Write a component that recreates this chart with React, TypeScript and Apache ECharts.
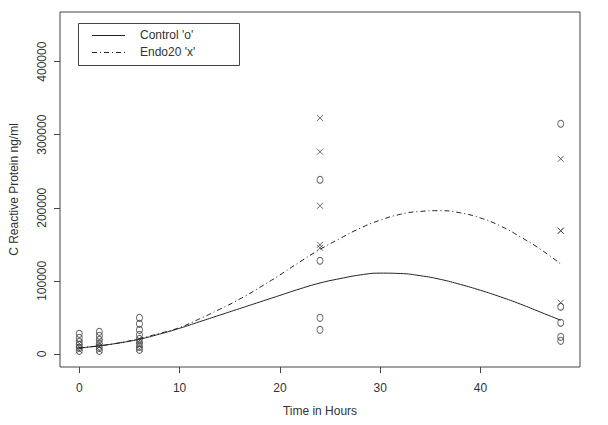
import React, { useEffect, useRef } from "react";
import * as echarts from "echarts";

const xTicks = [0, 10, 20, 30, 40];
const yTicks = [0, 100000, 200000, 300000, 400000];

// Control observations ('o')
const controlHours = [
  0, 0, 0, 0, 0, 0,
  2, 2, 2, 2, 2, 2,
  6, 6, 6, 6, 6, 6, 6, 6,
  24, 24, 24, 24,
  48, 48, 48, 48, 48,
];
const controlValues = [
  27400, 21900, 16400, 12300, 8200, 4100,
  30100, 24700, 19200, 13700, 8200, 4100,
  49300, 41100, 32900, 26000, 20500, 15100, 9600, 5500,
  238400, 127400, 49300, 32900,
  315000, 64400, 42500, 23300, 17800,
];

// Endo20 observations ('x')
const endoHours = [
  0, 0, 0,
  2, 2, 2,
  6, 6, 6,
  24, 24, 24, 24, 24,
  48, 48, 48, 48,
];
const endoValues = [
  14000, 9000, 5000,
  16000, 10000, 5000,
  18000, 12000, 7000,
  323000, 276700, 202700, 149300, 145200,
  267000, 168500, 168500, 70000,
];

// Fitted curves
const curveHours = [0, 2, 4, 6, 8, 10, 12, 14, 16, 18, 20, 22, 24, 26, 28, 30, 32, 34, 36, 38, 40, 42, 44, 46, 48];
const controlCurve = [
  8000, 11000, 15000, 20000, 27000, 35000, 44000, 53000, 62000, 71000, 80000, 89000, 97000,
  103000, 108000, 110500, 110000, 107000, 102000, 95000, 87000, 78000, 68000, 57000, 46000,
];
const endoCurve = [
  8000, 11000, 15000, 21000, 28000, 36000, 48000, 61000, 75000, 91000, 108000, 126000, 143000,
  158000, 172000, 183000, 191000, 195000, 196000, 193000, 186000, 175000, 160000, 143000, 123000,
];

const ink = "#333";
const font = "Liberation Sans, Arial, sans-serif";

export default function App() {
  const ref = useRef<HTMLDivElement>(null);
  useEffect(() => {
    if (!ref.current) return;
    const chart = echarts.init(ref.current, undefined, { renderer: "svg" });
    const pair = (xs: number[], ys: number[]) => xs.map((x, i) => [x, ys[i]]);
    chart.setOption({
      animation: false,
      backgroundColor: "#fff",
      textStyle: { fontFamily: font },
      grid: {
        left: 59,
        right: 28,
        top: 12,
        bottom: 58,
        show: true,
        borderColor: "#444",
        borderWidth: 1,
        backgroundColor: "transparent",
      },
      xAxis: {
        type: "value",
        min: -1.92,
        max: 49.92,
        name: "Time in Hours",
        nameLocation: "middle",
        nameGap: 38,
        nameTextStyle: { color: ink, fontSize: 12, fontFamily: font },
        axisLine: { show: false, onZero: false },
        axisTick: { show: true, length: 6, inside: false, customValues: xTicks, lineStyle: { color: "#444" } },
        axisLabel: { customValues: xTicks, color: ink, fontSize: 12, fontFamily: font, margin: 15 },
        splitLine: { show: false },
      },
      yAxis: {
        type: "value",
        min: -18000,
        max: 468000,
        name: "C Reactive Protein ng/ml",
        nameLocation: "middle",
        nameGap: 40,
        nameRotate: 90,
        nameTextStyle: { color: ink, fontSize: 12, fontFamily: font },
        axisLine: { show: false, onZero: false },
        axisTick: { show: true, length: 6, inside: false, customValues: yTicks, lineStyle: { color: "#444" } },
        axisLabel: {
          customValues: yTicks,
          color: ink,
          fontSize: 12,
          fontFamily: font,
          rotate: 90,
          margin: 12,
          formatter: (v: number) => String(v),
        },
        splitLine: { show: false },
      },
      series: [
        {
          type: "line",
          data: pair(curveHours, controlCurve),
          symbol: "none",
          smooth: true,
          lineStyle: { color: "#222", width: 1 },
        },
        {
          type: "line",
          data: pair(curveHours, endoCurve),
          symbol: "none",
          smooth: true,
          lineStyle: { color: "#222", width: 1, type: [5, 3, 1, 3] },
        },
        {
          type: "scatter",
          data: pair(controlHours, controlValues),
          symbol: "circle",
          symbolSize: [6, 7],
          itemStyle: { color: "rgba(0,0,0,0)", borderColor: "#444", borderWidth: 1 },
        },
        {
          type: "scatter",
          data: pair(endoHours, endoValues),
          symbol: "path://M0,0L10,10M10,0L0,10",
          symbolSize: [6, 6],
          itemStyle: { color: "none", borderColor: "#444", borderWidth: 1 },
        },
      ],
      graphic: [
        {
          type: "rect",
          shape: { x: 78.5, y: 23.5, width: 161, height: 42 },
          style: { fill: "#fff", stroke: "#444", lineWidth: 1 },
          z: 10,
        },
        {
          type: "line",
          shape: { x1: 92, y1: 35.5, x2: 125, y2: 35.5 },
          style: { stroke: "#222", lineWidth: 1 },
          z: 11,
        },
        {
          type: "line",
          shape: { x1: 92, y1: 52.5, x2: 125, y2: 52.5 },
          style: { stroke: "#222", lineWidth: 1, lineDash: [5, 3, 1, 3] },
          z: 11,
        },
        {
          type: "text",
          x: 140,
          y: 35,
          style: { text: "Control 'o'", fill: ink, font: `12px ${font}`, verticalAlign: "middle" },
          z: 11,
        },
        {
          type: "text",
          x: 140,
          y: 52,
          style: { text: "Endo20 'x'", fill: ink, font: `12px ${font}`, verticalAlign: "middle" },
          z: 11,
        },
      ],
    });
    return () => chart.dispose();
  }, []);
  return <div ref={ref} style={{ width: 608, height: 425, margin: -8 }} />;
}
